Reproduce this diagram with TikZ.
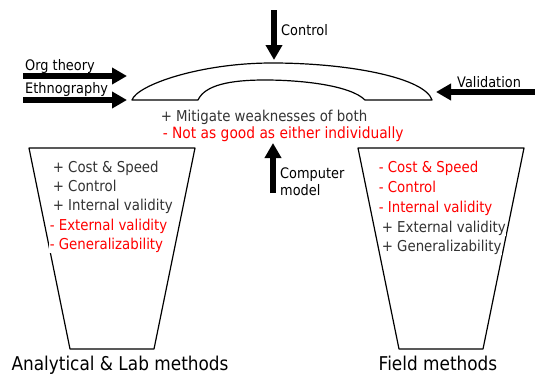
\documentclass[tikz,border=0pt]{standalone}
\usepackage{fontspec}
\setmainfont{DejaVu Sans}[FakeStretch=0.89]
\usetikzlibrary{arrows.meta,positioning}

\begin{document}
\begin{tikzpicture}[x=1pt,y=-1pt,line join=round,
                    fat/.style={line width=5.5pt,-{Triangle[width=16pt,length=15pt]}},
                    pro/.style={anchor=base west,text=black!80,fill=white,inner sep=0.6pt,
                                font=\fontsize{15}{17}\selectfont},
                    con/.style={pro,text=red},
                    tag/.style={anchor=base west,inner sep=0pt,
                                font=\fontsize{14.5}{16}\selectfont},
                    method/.style={anchor=base,inner sep=0pt,font=\fontsize{19}{21}\selectfont}]
  \useasboundingbox (0,0) rectangle (535,375);

  % the two funnels
  \draw[line width=1.2pt] (29,148) -- (195,148) -- (154,349) -- (70,349) -- cycle;
  \draw[line width=1.2pt] (358,148) -- (524,148) -- (483,349) -- (399,349) -- cycle;
  \node[method] (lab) at (120,370.5) {Analytical \& Lab methods};
  \node[method] (field) at (438,370.5) {Field methods};

  % the bridge
  \draw[line width=1.2pt] (132,100) .. controls (137,85) and (200,63) .. (272,63)
        .. controls (350,63) and (425,78) .. (432,100) -- (365,100)
        .. controls (350,85) and (300,80) .. (265,80)
        .. controls (230,80) and (205,85) .. (198,100) -- cycle;

  % arrows in
  \coordinate (ot0) at (23,76);   \coordinate (ot1) at (127,76);
  \coordinate (et0) at (23,100);  \coordinate (et1) at (127,100);
  \coordinate (ct0) at (274,10);  \coordinate (ct1) at (274,60);
  \coordinate (va0) at (535,92);  \coordinate (va1) at (436,92);
  \coordinate (cm0) at (273,193); \coordinate (cm1) at (273,143);
  \draw[fat] (ot0) -- (ot1);
  \draw[fat] (et0) -- (et1);
  \draw[fat] (ct0) -- (ct1);
  \draw[fat] (va0) -- (va1);
  \draw[fat] (cm0) -- (cm1);

  \node[tag] (orgtheory) at (25,70) {Org theory};
  \node[tag] (ethno) at (25,93) {Ethnography};
  \node[tag] (control) at (281,35) {Control};
  \node[tag] (valid) at (457,87) {Validation};
  \node[tag] (computer) at (280,178) {Computer};
  \node[tag] (model) at (280,195) {model};

  % middle
  \node[pro] (both) at (160,121.5) {+ Mitigate weaknesses of both};
  \node[con,font=\fontsize{15.5}{17}\selectfont] (either) at (162,138) {- Not as good as either individually};

  % lab side
  \node[pro] (l1) at (52,172) {+ Cost \& Speed};
  \node[pro] (l2) at (52,191) {+ Control};
  \node[pro] (l3) at (52,210) {+ Internal validity};
  \node[con] (l4) at (49,230) {- External validity};
  \node[con] (l5) at (49,249) {- Generalizability};

  % field side
  \node[con] (f1) at (378,172) {- Cost \& Speed};
  \node[con] (f2) at (378,192) {- Control};
  \node[con] (f3) at (378,212) {- Internal validity};
  \node[pro] (f4) at (381,232) {+ External validity};
  \node[pro] (f5) at (381,251) {+ Generalizability};
\end{tikzpicture}
\end{document}
